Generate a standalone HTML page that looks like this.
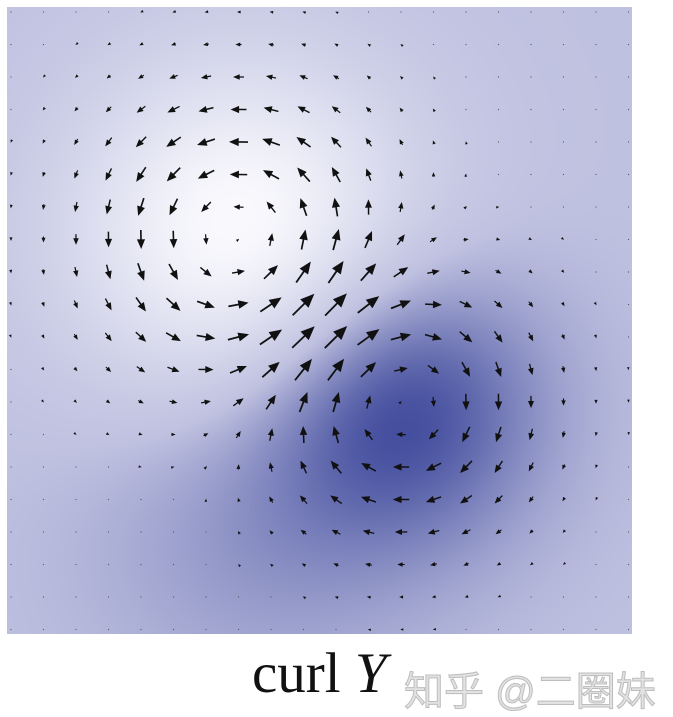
<!DOCTYPE html>
<html><head><meta charset="utf-8"><style>
body{margin:0;background:#fff;width:673px;height:717px;overflow:hidden;position:relative}
#plot{position:absolute;left:7px;top:7px}
#cap{position:absolute;left:252px;top:641px;font-family:"Liberation Serif",serif;font-size:57px;color:#111;white-space:nowrap}
#wm{position:absolute;left:404px;top:659px;font-family:"Liberation Sans","Noto Sans CJK SC",sans-serif;font-size:40px;color:#e2e2e2;white-space:nowrap;-webkit-text-stroke:1px #bdbdbd}
</style></head><body>
<canvas id="bg" width="625" height="627" style="position:absolute;left:7px;top:7px"></canvas>
<svg id="plot" width="625" height="627"></svg>
<div id="cap">curl <i>Y</i></div>
<div id="wm">知乎 @二圈妹</div>
<script>
// vortex data (plot pixel coords): centers, spin, width
const vortexX=[231,393];
const vortexY=[231,395];
const vortexSpin=[1,-1];
const vortexSigma=[88,80];
const colorBlobX=[236,393,250];
const colorBlobY=[226,395,510];
const colorBlobW=[1.0,-0.85,-0.3];
const colorBlobS=[125,100,120];
const nCols=20,nRows=20;
const gx=i=>4+i*32.5, gy=j=>5+j*32.5;
// background
const c=document.getElementById('bg').getContext('2d');
const img=c.createImageData(625,627);
const base=[191,193,224],light=[253,253,255],dark=[38,50,142];
for(let y=0;y<627;y++)for(let x=0;x<625;x++){
 let v=0;
 for(let k=0;k<colorBlobX.length;k++){const dx=x-colorBlobX[k],dy=y-colorBlobY[k];v+=colorBlobW[k]*Math.exp(-(dx*dx+dy*dy)/(2*colorBlobS[k]*colorBlobS[k]));}
 v=Math.max(-1,Math.min(1,v));
 const t=v>=0?light:dark,a=Math.abs(v);
 const p=(y*625+x)*4;
 for(let q=0;q<3;q++)img.data[p+q]=base[q]+(t[q]-base[q])*a;
 img.data[p+3]=255;
}
c.putImageData(img,0,0);
// arrows
const svg=document.getElementById('plot');const NS='http://www.w3.org/2000/svg';
const K=0.36;
for(let i=0;i<nCols;i++)for(let j=0;j<nRows;j++){
 const x=gx(i),y=gy(j);let vx=0,vy=0;
 for(let k=0;k<vortexX.length;k++){const dx=x-vortexX[k],dy=y-vortexY[k];const g=Math.exp(-(dx*dx+dy*dy)/(2*vortexSigma[k]**2));vx+=vortexSpin[k]*dy*g*K;vy+=-vortexSpin[k]*dx*g*K;}
 const L=Math.hypot(vx,vy);
 const x0=x-vx/2,y0=y-vy/2,x1=x+vx/2,y1=y+vy/2;
 if(L<1.2){const d=document.createElementNS(NS,'circle');d.setAttribute('cx',x);d.setAttribute('cy',y);d.setAttribute('r',0.6);d.setAttribute('fill','#555');
 
 svg.appendChild(d);continue;}
 const ux=vx/L,uy=vy/L,h=Math.min(14,2.5+L*0.38),w=h*0.42;
 const l=document.createElementNS(NS,'line');l.setAttribute('x1',x0);l.setAttribute('y1',y0);l.setAttribute('x2',x1-ux*h*0.8);l.setAttribute('y2',y1-uy*h*0.8);
 l.setAttribute('stroke','#111');l.setAttribute('stroke-width',Math.min(1.8,0.7+L*0.05));
 
 svg.appendChild(l);
 const bx=x1-ux*h,by=y1-uy*h;
 const p=document.createElementNS(NS,'polygon');
 p.setAttribute('points',`${x1},${y1} ${bx-uy*w},${by+ux*w} ${bx+uy*w},${by-ux*w}`);p.setAttribute('fill','#111');
 
 svg.appendChild(p);
}
</script>
</body></html>
